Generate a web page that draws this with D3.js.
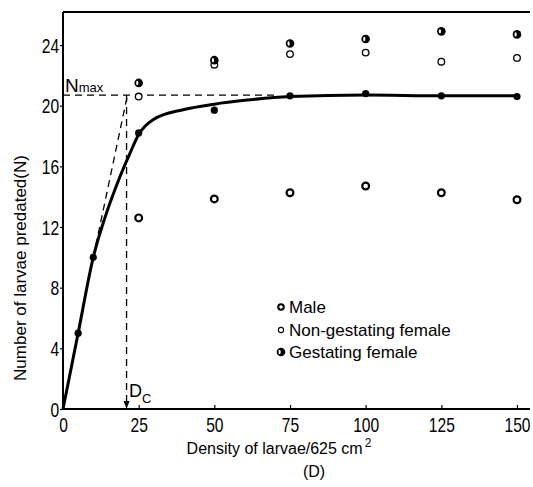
<!DOCTYPE html>
<html><head><meta charset="utf-8">
<script src="https://cdn.jsdelivr.net/npm/d3@7"></script>
<style>
body{margin:0;background:#fff;}
svg{display:block;}
.tick text{font-family:"Liberation Sans","Arial",sans-serif;font-size:20px;fill:#000;}
.lbl{font-family:"Liberation Sans","Arial",sans-serif;fill:#000;}
</style></head>
<body>
<svg id="c" width="533" height="487"></svg>
<script>
// ---- data ----
const densities = [25, 50, 75, 100, 125, 150];
const gestatingFemale = [21.5, 23.0, 24.1, 24.4, 24.9, 24.7];
const nonGestatingFemale = [20.6, 22.7, 23.4, 23.5, 22.9, 23.15];
const male = [12.6, 13.85, 14.26, 14.7, 14.26, 13.8];
const meanD = [5, 10, 25, 50, 75, 100, 125, 150];
const meanN = [5, 10, 18.2, 19.7, 20.65, 20.8, 20.65, 20.6];
const curveD = [0, 5, 10, 14, 18, 22, 25, 30, 40, 50, 60, 75, 100, 125, 150];
const curveN = [0, 5, 10, 12.7, 14.9, 16.8, 18.1, 19.1, 19.75, 20.1, 20.35, 20.6, 20.7, 20.65, 20.65];
const xTicks = [0, 25, 50, 75, 100, 125, 150];
const yTicks = [0, 4, 8, 12, 16, 20, 24];
const Nmax = 20.7, Dc = 21;
const legendLabels = ["Male", "Non-gestating female", "Gestating female"];

const svg = d3.select("#c");
const x = d3.scaleLinear().domain([0, 150]).range([63, 517]);
const y = d3.scaleLinear().domain([0, 24]).range([409, 45]);
const xEnd = x.invert(530), yTop = y.invert(12);

// frame line on top
svg.append("line").attr("x1", x(0)).attr("x2", x(xEnd)).attr("y1", y(yTop)).attr("y2", y(yTop))
  .attr("stroke", "#000").attr("stroke-width", 2);

// axes
const gx = svg.append("g").attr("transform", `translate(0,${y(0)})`)
  .call(d3.axisTop(x).tickValues(xTicks).tickSize(4).tickFormat(d3.format("d")));
gx.select(".domain").remove();
gx.selectAll(".tick line").attr("stroke-width", 1.2);
gx.selectAll(".tick text").attr("x", 0).attr("y", 23).attr("dy", 0)
  .attr("text-anchor", "middle").attr("transform", "scale(0.78,1)");
svg.append("line").attr("x1", x(0)).attr("x2", x(xEnd)).attr("y1", y(0)).attr("y2", y(0))
  .attr("stroke", "#000").attr("stroke-width", 2);

const gy = svg.append("g").attr("transform", `translate(${x(0)},0)`)
  .call(d3.axisLeft(y).tickValues(yTicks).tickSize(3).tickFormat(d3.format("d")));
gy.select(".domain").remove();
gy.selectAll(".tick line").attr("stroke-width", 1.2);
gy.selectAll(".tick text").attr("x", -5).attr("dy", "0.36em").attr("transform", "scale(0.78,1)");
svg.append("line").attr("x1", x(0)).attr("x2", x(0)).attr("y1", y(0)).attr("y2", y(yTop))
  .attr("stroke", "#000").attr("stroke-width", 2);

// dashed construction lines
const dash = "7,5";
svg.append("line").attr("x1", x(0)).attr("x2", x(70)).attr("y1", y(Nmax)).attr("y2", y(Nmax))
  .attr("stroke", "#000").attr("stroke-width", 1.3).attr("stroke-dasharray", dash);
svg.append("line").attr("x1", x(Dc)).attr("x2", x(Dc)).attr("y1", y(Nmax)).attr("y2", y(0) - 6)
  .attr("stroke", "#000").attr("stroke-width", 1.3).attr("stroke-dasharray", dash);
svg.append("path")
  .attr("d", `M${x(Dc) - 3},${y(0) - 8} L${x(Dc) + 3},${y(0) - 8} L${x(Dc)},${y(0)} Z`)
  .attr("fill", "#000");
svg.append("line").attr("x1", x(10)).attr("y1", y(10)).attr("x2", x(Dc + 0.3)).attr("y2", y(Nmax))
  .attr("stroke", "#000").attr("stroke-width", 1.3).attr("stroke-dasharray", dash);

// fitted curve
const curvePts = curveD.map((d, i) => [d, curveN[i]]);
svg.append("path").datum(curvePts)
  .attr("d", d3.line().x(d => x(d[0])).y(d => y(d[1])).curve(d3.curveMonotoneX))
  .attr("fill", "none").attr("stroke", "#000").attr("stroke-width", 3);

// markers
function drawMale(g, cx, cy) {
  g.append("circle").attr("cx", cx).attr("cy", cy).attr("r", 3.4)
    .attr("fill", "#fff").attr("stroke", "#000").attr("stroke-width", 2.2);
}
function drawNonGest(g, cx, cy) {
  g.append("circle").attr("cx", cx).attr("cy", cy).attr("r", 3.3)
    .attr("fill", "#fff").attr("stroke", "#000").attr("stroke-width", 1.3);
}
function drawGest(g, cx, cy) {
  g.append("circle").attr("cx", cx).attr("cy", cy).attr("r", 4.3).attr("fill", "#000");
  g.append("ellipse").attr("cx", cx - 1.4).attr("cy", cy).attr("rx", 1.1).attr("ry", 2.2).attr("fill", "#fff");
}
const pts = svg.append("g");
densities.forEach((d, i) => {
  drawNonGest(pts, x(d), y(nonGestatingFemale[i]));
  drawGest(pts, x(d), y(gestatingFemale[i]));
  drawMale(pts, x(d), y(male[i]));
});
pts.selectAll(".mean").data(meanD.map((d, i) => [d, meanN[i]])).join("circle")
  .attr("cx", d => x(d[0])).attr("cy", d => y(d[1])).attr("r", 3.6).attr("fill", "#000");

// legend
const lg = svg.append("g");
const legY = [307, 330, 352];
legendLabels.forEach((t, i) => {
  const gi = lg.append("g");
  if (i === 1) {
    gi.append("circle").attr("cx", 281).attr("cy", legY[i]).attr("r", 2.6)
      .attr("fill", "#fff").attr("stroke", "#000").attr("stroke-width", 1.1);
  } else if (i === 0) {
    gi.append("circle").attr("cx", 281).attr("cy", legY[i]).attr("r", 2.8)
      .attr("fill", "#fff").attr("stroke", "#000").attr("stroke-width", 2);
  } else {
    drawGest(gi, 281, legY[i]);
  }
  gi.append("text").attr("class", "lbl").attr("x", 289).attr("y", legY[i] + 6)
    .attr("font-size", 17).text(t);
});

// annotations
const nm = svg.append("text").attr("class", "lbl").attr("x", 65).attr("y", 92).attr("font-size", 19);
nm.append("tspan").text("N");
nm.append("tspan").attr("font-size", 13).text("max");
const dc = svg.append("text").attr("class", "lbl").attr("x", 129).attr("y", 397).attr("font-size", 18);
dc.append("tspan").text("D");
dc.append("tspan").attr("font-size", 13).attr("dy", 6).text("C");

// axis titles
const xt = svg.append("text").attr("class", "lbl").attr("x", 279).attr("y", 454)
  .attr("text-anchor", "middle").attr("font-size", 16);
xt.append("tspan").text("Density of larvae/625 cm");
xt.append("tspan").attr("font-size", 12).attr("dy", -7).attr("dx", 2).text("2");
svg.append("text").attr("class", "lbl").attr("x", 314).attr("y", 477)
  .attr("text-anchor", "middle").attr("font-size", 16).text("(D)");
svg.append("text").attr("class", "lbl").attr("transform", "translate(26,268) rotate(-90)")
  .attr("text-anchor", "middle").attr("font-size", 17).text("Number of larvae predated(N)");
</script>
</body></html>
